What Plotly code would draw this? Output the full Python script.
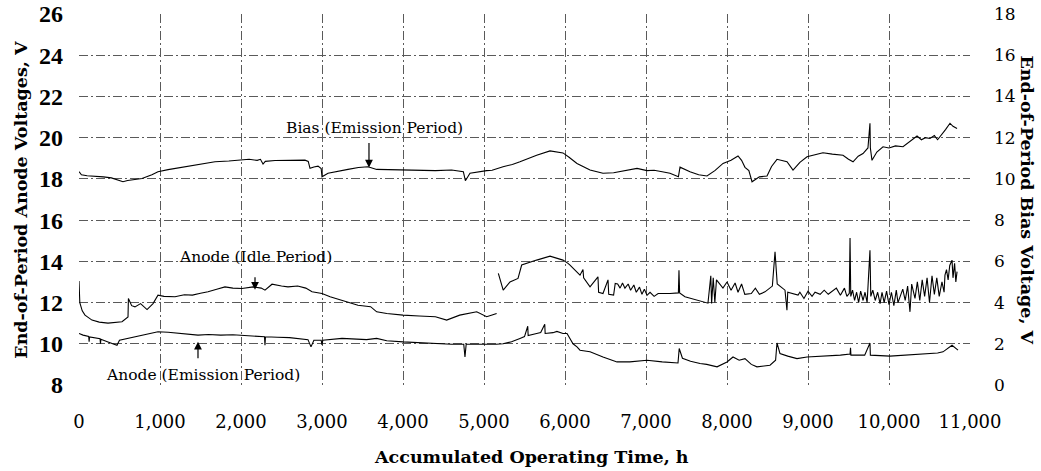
import plotly.graph_objects as go

# ---------------- data ----------------
# Bias voltage during emission period (right axis, V)
bias_t = [0, 30, 100, 200, 300, 400, 543, 600, 778, 900, 975, 1100, 1250, 1395, 1550, 1679, 1850, 2012,
          2100, 2200, 2240, 2272, 2300, 2420, 2600, 2790, 2830, 2852, 2900, 2951, 2990, 3000, 3074, 3200,
          3321, 3450, 3568, 3675, 3800, 4000, 4200, 4400, 4600, 4745, 4770, 4827, 5033, 5100, 5235, 5350,
          5444, 5550, 5650, 5815, 5900, 5975, 6050, 6148, 6309, 6469, 6600, 6750, 6889, 7012, 7100, 7200,
          7296, 7400, 7420, 7543, 7650, 7753, 7850, 7951, 8050, 8136, 8180, 8222, 8270, 8309, 8400, 8494,
          8550, 8617, 8680, 8741, 8815, 8900, 8988, 9100, 9185, 9300, 9432, 9500, 9556, 9620, 9679, 9740,
          9765, 9770, 9790, 9850, 9926, 10000, 10080, 10173, 10250, 10346, 10400, 10450, 10506, 10560,
          10600, 10667, 10700, 10753, 10790, 10840]
bias_v = [10.35, 10.2, 10.15, 10.13, 10.1, 10.05, 9.86, 9.92, 10.02, 10.2, 10.35, 10.45, 10.55, 10.67,
          10.75, 10.83, 10.87, 10.91, 10.95, 10.9, 10.95, 10.72, 10.85, 10.89, 10.9, 10.91, 10.85, 10.51,
          10.58, 10.62, 10.5, 10.1, 10.27, 10.38, 10.46, 10.55, 10.59, 10.46, 10.45, 10.43, 10.42, 10.4,
          10.43, 10.35, 9.91, 10.27, 10.4, 10.42, 10.59, 10.7, 10.83, 11.0, 11.15, 11.36, 11.3, 11.26,
          11.05, 10.75, 10.43, 10.27, 10.3, 10.4, 10.51, 10.4, 10.42, 10.35, 10.27, 10.1, 10.57, 10.35,
          10.2, 10.14, 10.4, 10.75, 10.9, 11.11, 10.9, 10.56, 10.4, 9.86, 10.1, 10.14, 10.6, 10.95, 10.9,
          10.83, 10.43, 10.8, 11.07, 11.2, 11.27, 11.2, 11.15, 10.95, 10.83, 11.1, 11.23, 11.5, 12.7,
          11.5, 10.9, 11.3, 11.56, 11.5, 11.6, 11.56, 11.8, 12.08, 11.9, 12.0, 11.96, 12.1, 11.9, 12.2,
          12.4, 12.7, 12.55, 12.45]

# Anode voltage during idle period (left axis, V); None marks the data gap
idle_t = [0, 10, 40, 74, 160, 250, 358, 450, 531, 605, 610, 650, 691, 760, 840, 914, 975, 1050, 1185,
          1300, 1400, 1500, 1593, 1700, 1802, 1900, 2012, 2150, 2250, 2296, 2383, 2500, 2580, 2700, 2800,
          2877, 3000, 3100, 3247, 3350, 3444, 3600, 3675, 3800, 4000, 4200, 4400, 4539, 4700, 4910, 5033,
          5100, 5156, 5166, 5177, 5237, 5321, 5420, 5465, 5560, 5650, 5815, 5900, 5975, 6037, 6062, 6185,
          6222, 6230, 6309, 6407, 6415, 6469, 6531, 6540, 6600, 6620, 6650, 6680, 6710, 6740, 6780, 6810,
          6850, 6880, 6920, 6950, 6980, 7012, 7050, 7100, 7150, 7296, 7400, 7407, 7415, 7481, 7642, 7765,
          7800, 7810, 7830, 7850, 7870, 7889, 7950, 8000, 8050, 8100, 8136, 8180, 8220, 8300, 8350, 8400,
          8469, 8560, 8593, 8620, 8716, 8740, 8750, 8877, 8900, 8950, 9000, 9050, 9087, 9150, 9200, 9250,
          9296, 9350, 9400, 9450, 9480, 9510, 9519, 9528, 9550, 9575, 9600, 9625, 9650, 9680, 9704, 9730,
          9765, 9775, 9800, 9830, 9860, 9890, 9914, 9940, 9970, 10000, 10030, 10060, 10090, 10111, 10170,
          10200, 10230, 10259, 10280, 10321, 10350, 10380, 10410, 10440, 10470, 10500, 10531, 10560, 10590,
          10620, 10654, 10680, 10691, 10710, 10730, 10750, 10778, 10790, 10810, 10825, 10840]
idle_v = [13.05, 12.0, 11.6, 11.39, 11.15, 11.05, 11.0, 11.02, 11.07, 11.3, 12.2, 11.85, 11.79, 11.95,
          11.66, 11.95, 12.36, 12.3, 12.28, 12.38, 12.36, 12.45, 12.52, 12.65, 12.76, 12.7, 12.68, 12.76,
          12.7, 12.6, 12.89, 12.8, 12.76, 12.8, 12.7, 12.52, 12.44, 12.28, 12.12, 12.0, 11.87, 11.8, 11.55,
          11.47, 11.39, 11.35, 11.31, 11.15, 11.39, 11.55, 11.31, 11.4, 11.47, None, 13.42, 12.6, 13.0,
          13.17, 13.82, 13.95, 14.06, 14.25, 14.15, 14.06, 13.9, 13.82, 13.33, 13.6, 13.2, 12.76, 13.25,
          12.5, 12.44, 13.1, 12.4, 12.36, 12.93, 12.9, 12.7, 12.95, 12.7, 12.9, 12.6, 12.85, 12.5, 12.75,
          12.4, 12.65, 12.35, 12.5, 12.3, 12.44, 12.44, 12.47, 13.57, 12.47, 12.28, 12.12, 11.97, 13.3,
          11.95, 13.2, 12.0, 13.1, 13.0, 12.7, 13.0, 12.6, 12.95, 12.5, 12.9, 12.4, 12.44, 12.7, 12.4,
          12.52, 12.8, 14.46, 12.9, 12.6, 11.63, 12.5, 12.36, 12.5, 12.2, 12.55, 12.3, 12.5, 12.4, 12.6,
          12.4, 12.52, 12.7, 12.35, 12.7, 12.3, 12.45, 15.13, 12.3, 12.6, 12.1, 12.5, 12.0, 12.55, 12.1,
          12.5, 12.0, 14.54, 12.3, 12.6, 12.1, 12.5, 11.95, 12.5, 12.0, 12.55, 11.9, 12.5, 11.85, 12.6,
          12.0, 12.65, 12.1, 12.8, 11.55, 12.9, 12.2, 13.0, 12.1, 13.1, 12.3, 13.2, 12.0, 13.3, 12.4, 13.2,
          12.3, 13.0, 12.5, 13.33, 13.6, 13.1, 13.8, 14.06, 13.2, 13.9, 13.0, 13.5]

# Anode voltage during emission period (left axis, V)
emis_t = [0, 50, 120, 125, 130, 200, 260, 265, 270, 358, 420, 469, 500, 600, 650, 778, 900, 975, 1100,
          1200, 1300, 1469, 1600, 1750, 1900, 2012, 2150, 2290, 2296, 2302, 2450, 2600, 2827, 2864, 2900,
          2990, 3000, 3010, 3247, 3400, 3550, 3675, 3800, 4000, 4200, 4420, 4600, 4750, 4765, 4780, 5033,
          5150, 5235, 5340, 5444, 5500, 5540, 5545, 5650, 5700, 5750, 5755, 5852, 5900, 5975, 6025, 6099,
          6148, 6185, 6309, 6469, 6560, 6642, 6800, 7012, 7200, 7395, 7410, 7450, 7550, 7667, 7750, 7877,
          8000, 8074, 8150, 8222, 8300, 8370, 8531, 8600, 8617, 8654, 8750, 8864, 8988, 9200, 9400, 9519,
          9525, 9530, 9700, 9765, 9770, 10012, 10200, 10420, 10600, 10667, 10778, 10852]
emis_v = [10.5, 10.42, 10.35, 10.1, 10.33, 10.28, 10.25, 10.0, 10.22, 10.09, 10.0, 9.93, 10.17, 10.25,
          10.3, 10.42, 10.52, 10.58, 10.56, 10.52, 10.5, 10.42, 10.45, 10.42, 10.44, 10.42, 10.4, 10.34,
          9.93, 10.34, 10.32, 10.3, 10.2, 9.85, 10.17, 10.17, 9.95, 10.17, 10.26, 10.22, 10.2, 10.26, 10.15,
          10.09, 10.05, 10.0, 9.98, 9.98, 9.36, 9.98, 9.96, 9.98, 10.0, 10.1, 10.26, 10.35, 10.85, 10.4,
          10.5, 10.55, 10.95, 10.5, 10.54, 10.6, 10.5, 10.5, 10.0, 9.85, 9.69, 9.61, 9.36, 9.25, 9.12, 9.12,
          9.2, 9.12, 9.07, 9.77, 9.3, 9.15, 9.04, 9.0, 8.88, 9.12, 9.36, 9.2, 9.28, 9.0, 8.88, 8.96, 9.2,
          10.04, 9.53, 9.4, 9.28, 9.36, 9.4, 9.45, 9.5, 9.8, 9.45, 9.45, 10.04, 9.45, 9.4, 9.45, 9.53, 9.55,
          9.61, 9.93, 9.69]

x_ticks = [0, 1000, 2000, 3000, 4000, 5000, 6000, 7000, 8000, 9000, 10000, 11000]
x_labels = ["0", "1,000", "2,000", "3,000", "4,000", "5,000", "6,000", "7,000", "8,000", "9,000",
            "10,000", "11,000"]
left_ticks = [8, 10, 12, 14, 16, 18, 20, 22, 24, 26]
right_ticks = [0, 2, 4, 6, 8, 10, 12, 14, 16, 18]

# ---------------- figure ----------------
SERIF = "DejaVu Serif"
GRID = "#5a5a5a"
DASH = "9px,3px,2px,3px"

fig = go.Figure()
line_style = dict(color="black", width=1.1)
fig.add_trace(go.Scatter(x=bias_t, y=bias_v, mode="lines", line=line_style, yaxis="y2",
                         name="Bias (Emission Period)", connectgaps=False))
fig.add_trace(go.Scatter(x=idle_t, y=idle_v, mode="lines", line=line_style,
                         name="Anode (Idle Period)", connectgaps=False))
fig.add_trace(go.Scatter(x=emis_t, y=emis_v, mode="lines", line=line_style,
                         name="Anode (Emission Period)"))

fig.update_layout(
    width=1041, height=471,
    autosize=False,
    margin=dict(l=79, r=71, t=14, b=86, pad=0, autoexpand=False),
    paper_bgcolor="white", plot_bgcolor="white",
    showlegend=False,
    xaxis=dict(range=[0, 11000], tickvals=x_ticks, ticktext=x_labels, automargin=False,
               showgrid=True, gridcolor=GRID, gridwidth=1, griddash=DASH,
               zeroline=False, showline=False, ticks="",
               tickfont=dict(family=SERIF, size=18, color="black"),
               ticklabelstandoff=24),
    yaxis=dict(range=[8, 26], tickvals=left_ticks, automargin=False,
               showgrid=True, gridcolor=GRID, gridwidth=1, griddash=DASH,
               zeroline=False, showline=False, ticks="",
               tickfont=dict(family="Liberation Serif", size=24, color="black", weight="bold"),
               ticklabelstandoff=15),
    yaxis2=dict(range=[0, 18], tickvals=right_ticks, overlaying="y", side="right", automargin=False,
                showgrid=False, zeroline=False, showline=False, ticks="",
                tickfont=dict(family=SERIF, size=17, color="black"),
                ticklabelstandoff=23),
)

txt = dict(family=SERIF, size=15.5, color="black")
title_font = dict(family=SERIF, size=17.5, color="black", weight="bold")
annotations = [
    dict(text="Bias (Emission Period)", x=3642, y=20.47, xref="x", yref="y", showarrow=False, font=txt),
    dict(text="Anode (Idle Period)", x=2173, y=14.2, xref="x", yref="y", showarrow=False, font=txt),
    dict(text="Anode (Emission Period)", x=1531, y=8.48, xref="x", yref="y", showarrow=False, font=txt),
    # arrows
    dict(text="", x=3580, y=18.55, xref="x", yref="y", ax=0, ay=-26, showarrow=True,
         arrowhead=2, arrowsize=1.3, arrowwidth=1.2, arrowcolor="black"),
    dict(text="", x=2173, y=12.62, xref="x", yref="y", ax=0, ay=-14, showarrow=True,
         arrowhead=2, arrowsize=1.3, arrowwidth=1.2, arrowcolor="black"),
    dict(text="", x=1469, y=10.1, xref="x", yref="y", ax=0, ay=18, showarrow=True,
         arrowhead=2, arrowsize=1.3, arrowwidth=1.2, arrowcolor="black"),
    # axis titles
    dict(text="End-of-Period Anode Voltages, V", x=-0.066, y=0.5, xref="paper", yref="paper",
         xanchor="center", yanchor="middle", showarrow=False, textangle=-90, font=title_font),
    dict(text="End-of-Period Bias Voltage, V", x=1.064, y=0.5, xref="paper", yref="paper",
         xanchor="center", yanchor="middle", showarrow=False, textangle=90, font=title_font),
    dict(text="Accumulated Operating Time, h", x=0.508, y=-0.194, xref="paper", yref="paper",
         xanchor="center", yanchor="middle", showarrow=False, font=title_font),
]
fig.update_layout(annotations=annotations)

fig.write_html("out.html", config={"displayModeBar": False})

# remove the browser's default page margin so the figure sits at the window origin
with open("out.html", "r", encoding="utf-8") as fh:
    html = fh.read()
html = html.replace("<body>", '<body style="margin:0;padding:0;">', 1)
with open("out.html", "w", encoding="utf-8") as fh:
    fh.write(html)
